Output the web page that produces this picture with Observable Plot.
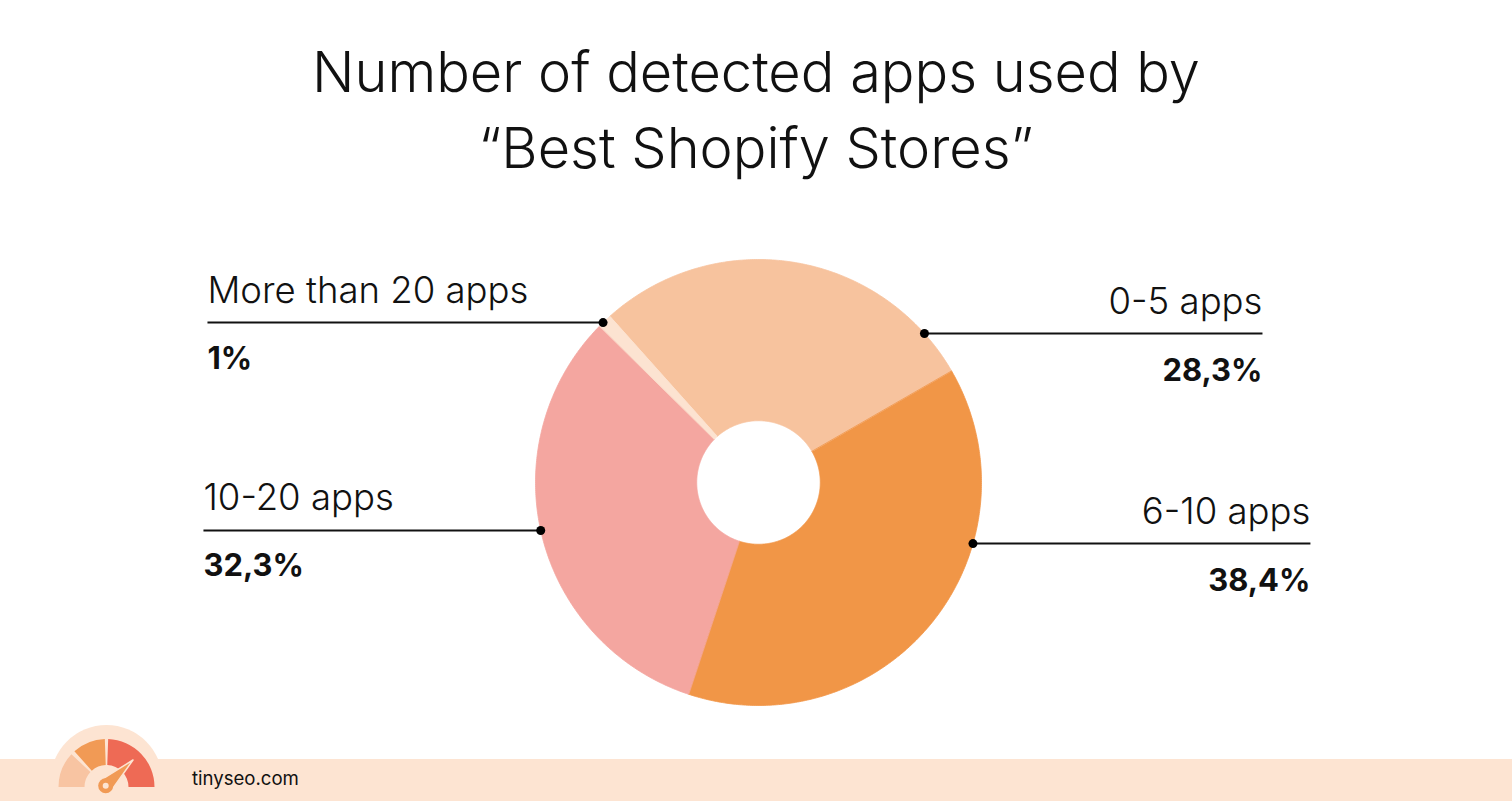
<!DOCTYPE html>
<html><head><meta charset="utf-8">
<script src="https://cdn.jsdelivr.net/npm/d3@7"></script>
<script src="https://cdn.jsdelivr.net/npm/@observablehq/plot@0.6"></script>
<style>
html,body{margin:0;padding:0;background:#fff;}
#page{position:relative;width:1512px;height:801px;overflow:hidden;font-family:Inter,"Open Sans",sans-serif;}
#title{position:absolute;left:0;top:0;}
#chart{position:absolute;left:0;top:200px;}
#footer{position:absolute;left:0;top:759px;width:1512px;height:42px;background:#FDE4D2;}
#brand{position:absolute;left:0;top:700px;}
</style>
</head><body>
<div id="page">
  <svg id="title" width="1512" height="200"></svg>
  <div id="chart"></div>
  <div id="footer"></div>
  <svg id="brand" width="400" height="101"></svg>
</div>
<script>
// ---- data ----
const titleLines = ["Number of detected apps used by", "“Best Shopify Stores”"];
const categories = ["0-5 apps", "6-10 apps", "10-20 apps", "More than 20 apps"];
const shares = [28.3, 38.4, 32.3, 1];
const sliceColors = ["#F7C39E", "#F19647", "#F4A6A0", "#FCE3D1"];
const siteName = "tinyseo.com";

// ---- layout (not data) ----
const FONT = "Inter";
const startAngle = -41.8;      // degrees clockwise from 12 o'clock
const innerRatio = 0.277;
const leaderY = [0.668, -0.274, -0.215, 0.717];
const leaderEnd = [2.26, 2.475, -2.489, -2.471];

const ctx = document.createElement("canvas").getContext("2d");
function fit(text, weight, target) {
  ctx.font = `${weight} 100px ${FONT}`;
  return 100 * target / ctx.measureText(text).width;
}
const titleSize = fit(titleLines[0], 300, 888);
const labelSize = (fit("More than 20 apps", 300, 321) + fit("0-5 apps", 300, 154)) / 2;
const pctSize = fit("28,3%", 700, 100);
const siteSize = fit(siteName, 400, 107);

// ---- title ----
const tsvg = d3.select("#title");
titleLines.forEach((t, i) => {
  tsvg.append("text").attr("x", 756).attr("y", 92 + i * 76)
    .attr("text-anchor", "middle").attr("font-family", FONT).attr("font-weight", 300)
    .attr("font-size", titleSize).attr("fill", "#111").text(t);
});

// ---- slices ----
const total = d3.sum(shares);
let acc = startAngle;
const slicePts = [];
categories.forEach((c, i) => {
  const a0 = acc, a1 = acc + shares[i] / total * 360; acc = a1;
  const n = Math.max(4, Math.ceil((a1 - a0) / 0.5));
  const ang = k => (a0 + (a1 - a0) * k / n) * Math.PI / 180;
  for (let k = 0; k <= n; k++) slicePts.push({cat: c, x: Math.sin(ang(k)), y: Math.cos(ang(k))});
  for (let k = n; k >= 0; k--) slicePts.push({cat: c, x: innerRatio * Math.sin(ang(k)), y: innerRatio * Math.cos(ang(k))});
});

const fmtPct = v => String(v).replace(".", ",") + "%";
const rows = categories.map((c, i) => {
  const side = Math.sign(leaderEnd[i]);
  const y = leaderY[i];
  return {cat: c, pct: fmtPct(shares[i]), x: side * Math.sqrt(1 - y * y), y, x2: leaderEnd[i], side};
});

const H = 560, cy = 282, R = 223, cx = 758;
const chart = Plot.plot({
  width: 1512, height: H,
  x: {domain: [-1, 1], range: [cx - R, cx + R], axis: null},
  y: {domain: [-1, 1], range: [cy + R, cy - R], axis: null},
  color: {domain: categories, range: sliceColors},
  style: {fontFamily: FONT, background: "transparent", overflow: "visible"},
  marks: [
    Plot.line(slicePts, {x: "x", y: "y", z: "cat", fill: "cat", stroke: "cat", strokeWidth: 0.8, curve: "linear-closed"}),
    Plot.link(rows, {x1: "x", y1: "y", x2: "x2", y2: "y", stroke: "#111", strokeWidth: 2}),
    Plot.dot(rows, {x: "x", y: "y", r: 4.5, fill: "#000", stroke: null}),
    Plot.text(rows, {filter: d => d.side > 0, x: "x2", y: "y", text: "cat", textAnchor: "end", lineAnchor: "middle", dy: -20 - 0.32 * labelSize, fontSize: labelSize, fontWeight: 300, fill: "#111"}),
    Plot.text(rows, {filter: d => d.side < 0, x: "x2", y: "y", text: "cat", textAnchor: "start", lineAnchor: "middle", dy: -20 - 0.32 * labelSize, fontSize: labelSize, fontWeight: 300, fill: "#111"}),
    Plot.text(rows, {filter: d => d.side > 0, x: "x2", y: "y", text: "pct", textAnchor: "end", lineAnchor: "middle", dy: 47 - 0.32 * pctSize, fontSize: pctSize, fontWeight: 700, fill: "#111"}),
    Plot.text(rows, {filter: d => d.side < 0, x: "x2", y: "y", text: "pct", textAnchor: "start", lineAnchor: "middle", dy: 46 - 0.32 * pctSize, fontSize: pctSize, fontWeight: 700, fill: "#111"})
  ]
});
document.getElementById("chart").appendChild(chart);

// ---- footer brand ----
const b = d3.select("#brand");
const gx = 106.5, gy = 87;
b.append("circle").attr("cx", gx).attr("cy", 81).attr("r", 56).attr("fill", "#FDE4D2");
const arc = d3.arc().innerRadius(22).outerRadius(48);
const segs = [[-90, -47, "#F8C4A2"], [-42, -2, "#F19A55"], [2, 90, "#EE6A55"]];
segs.forEach(([a0, a1, col]) => {
  b.append("path").attr("transform", `translate(${gx},${gy})`)
    .attr("d", arc({startAngle: a0 * Math.PI / 180, endAngle: a1 * Math.PI / 180})).attr("fill", col);
});
// needle
const nx = 105.7, ny = 85.7, tipX = 133, tipY = 60;
b.append("path").attr("d", `M${nx - 5},${ny - 5.5} L${tipX},${tipY} L${nx + 5.5},${ny + 5} Z`).attr("fill", "#F19A55").attr("stroke", "#FDE4D2").attr("stroke-width", 1.5).attr("stroke-linejoin", "round");
b.append("circle").attr("cx", nx).attr("cy", ny).attr("r", 7.5).attr("fill", "#F19A55");
b.append("circle").attr("cx", nx).attr("cy", ny).attr("r", 3).attr("fill", "#FDE4D2");
b.append("text").attr("x", 192).attr("y", 85).attr("font-family", FONT).attr("font-size", siteSize)
  .attr("fill", "#111").text(siteName);
</script>
</body></html>
